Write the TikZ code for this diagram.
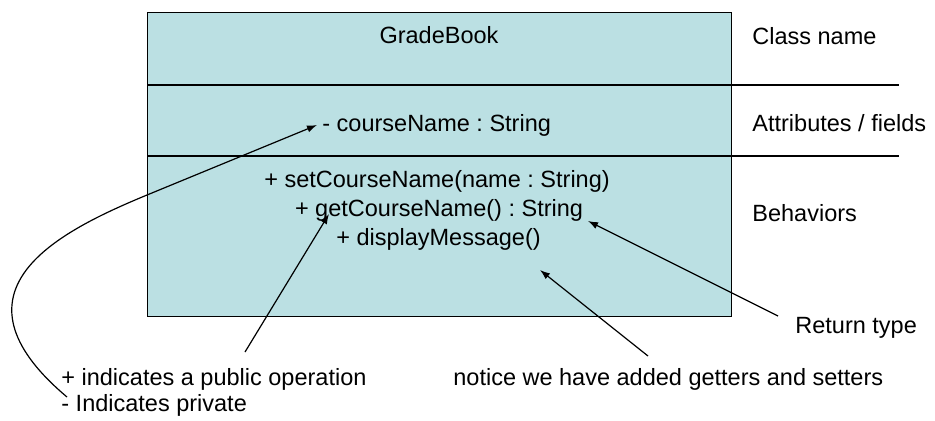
\documentclass[tikz,border=0pt]{standalone}
\usepackage{fontspec}
\setmainfont{Liberation Sans}
\usetikzlibrary{arrows.meta,calc}
\definecolor{boxfill}{RGB}{187,224,227}
\frenchspacing
\begin{document}
\begin{tikzpicture}[x=0.5pt,y=-0.5pt,
  txt/.style={inner sep=0pt, font=\fontsize{11.75}{14}\selectfont},
  conn/.style={line width=0.6pt, -{Latex[length=5pt,width=3.6pt]}},
  rule/.style={line width=0.6pt}]
\useasboundingbox (0,0) rectangle (935,420);
% class box
\node[draw, line width=0.6pt, fill=boxfill, minimum width=292pt, minimum height=152pt,
      inner sep=0pt, anchor=north west] (cls) at (147,12) {};
\coordinate (d1) at (899,85);
\coordinate (d2) at (899,156);
\draw[rule] (cls.west |- d1) -- (d1);
\draw[rule] (cls.west |- d2) -- (d2);
% texts
\node[txt, anchor=base] (name) at (439,43) {GradeBook};
\node[txt, anchor=base west] (lblname) at (752,44) {Class name};
\node[txt, anchor=base west] (attr) at (322,131) {- courseName : String};
\node[txt, anchor=base west] (lblattr) at (752,131) {Attributes / fields};
\node[txt, anchor=base] (set) at (437,187) {+ setCourseName(name : String)};
\node[txt, anchor=base] (get) at (439,216) {+ getCourseName() : String};
\node[txt, anchor=base] (disp) at (438.5,245) {+ displayMessage()};
\node[txt, anchor=base west] (lblbeh) at (752,221) {Behaviors};
\node[txt, anchor=base west] (ret) at (795,333) {Return type};
\node[txt, anchor=base west] (pub) at (61,385) {+ indicates a public operation};
\node[txt, anchor=base west] (priv) at (61,411) {- Indicates private};
\node[txt, anchor=base west] (notice) at (453,385) {notice we have added getters and setters};
% connector end points
\coordinate (privtail) at (67,397);
\coordinate (attrtip) at (317,125);
\coordinate (pubtail) at (245,352);
\coordinate (gettip) at (329,214);
\coordinate (noticetail) at (648,356);
\coordinate (disptip) at (540,270);
\coordinate (rettail) at (778,316);
\coordinate (gettip2) at (588,221);
% connectors
\draw[conn] (privtail) .. controls (-60,290) and (60,231) .. (147,195) -- (attrtip);
\draw[conn] (pubtail) -- (gettip);
\draw[conn] (noticetail) -- (disptip);
\draw[conn] (rettail) -- (gettip2);
\end{tikzpicture}
\end{document}
